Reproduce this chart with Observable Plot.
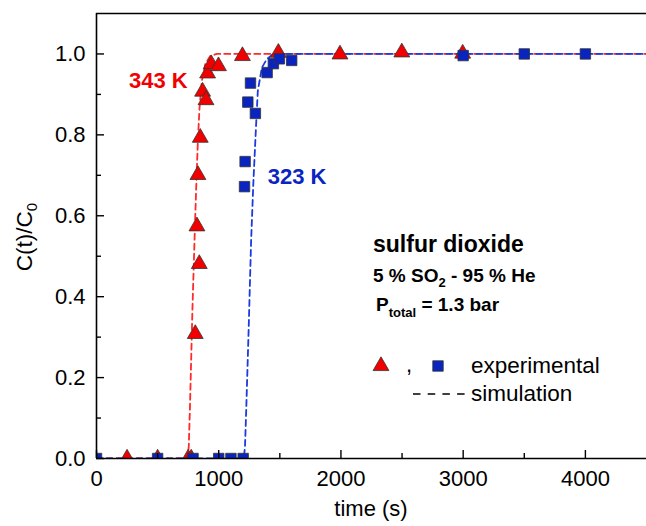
<!DOCTYPE html>
<html>
<head>
<meta charset="utf-8">
<script src="https://cdn.jsdelivr.net/npm/d3@7"></script>
<script src="https://cdn.jsdelivr.net/npm/@observablehq/plot@0.6"></script>
<style>
  html, body { margin: 0; padding: 0; background: #fff; }
  #chart svg { display: block; }
</style>
</head>
<body>
<div id="chart"></div>
<script>
// ---- data ----
// 343 K experimental (red triangles)
const t343 = [250, 500, 750, 775, 808, 822, 830, 841, 849, 868, 896, 909, 939, 998, 1194, 1488, 1992, 2498, 2996];
const c343 = [0, 0, 0, 0, 0.308, 0.574, 0.701, 0.481, 0.793, 0.907, 0.886, 0.952, 0.975, 0.970, 0.995, 1.003, 0.999, 1.004, 1.001];
// 323 K experimental (blue squares)
const t323 = [0, 500, 790, 1000, 1100, 1200, 1211, 1216, 1238, 1260, 1300, 1396, 1447, 1496, 1597, 3000, 3500, 4000];
const c323 = [0, 0, 0, 0, 0, 0, 0.672, 0.734, 0.881, 0.928, 0.853, 0.954, 0.976, 0.988, 0.984, 0.996, 1.0, 1.0];
// simulation curves
const simT343 = [0, 745, 755, 765, 775, 785, 795, 805, 818, 830, 843, 862, 890, 931, 985, 4500];
const simC343 = [0, 0, 0.03, 0.13, 0.25, 0.37, 0.47, 0.57, 0.69, 0.79, 0.867, 0.933, 0.975, 0.995, 1, 1];
const simT323 = [0, 1205, 1215, 1225, 1235, 1245, 1255, 1265, 1284, 1306, 1320, 1353, 1393, 1447, 4500];
const simC323 = [0, 0, 0.03, 0.12, 0.22, 0.32, 0.43, 0.538, 0.686, 0.826, 0.909, 0.966, 0.987, 1, 1];
// ticks
const xMajor = [0, 1000, 2000, 3000, 4000];
const xMinor = [500, 1500, 2500, 3500];
const yMajor = [0, 0.2, 0.4, 0.6, 0.8, 1.0];
const yMinor = [0.1, 0.3, 0.5, 0.7, 0.9];
// labels
const seriesLabels = [{name: "343 K", t: 506, c: 0.933, color: "#f00000"}, {name: "323 K", t: 1641, c: 0.697, color: "#0a24c0"}];

const RED = "#f00000", BLUE = "#0a24c0";
const exp343 = t343.map((t, i) => ({t, c: c343[i]}));
const exp323 = t323.map((t, i) => ({t, c: c323[i]}));
const sim343 = simT343.map((t, i) => ({t, c: simC343[i]}));
const sim323 = simT323.map((t, i) => ({t, c: simC323[i]}));

const FONT = "'Liberation Sans', Arial, sans-serif";
const W = 646, H = 526, ML = 96, MR = 0, MT = 13, MB = 68;
const FW = W - ML - MR, FH = H - MT - MB;

const plot = Plot.plot({
  width: W,
  height: H,
  marginLeft: ML,
  marginRight: MR,
  marginTop: MT,
  marginBottom: MB,
  style: {fontFamily: FONT, fontSize: "22px", color: "#000", background: "#fff"},
  x: {domain: [0, 4500], axis: null},
  y: {domain: [0, 1.1], axis: null},
  marks: [
    Plot.line(sim343, {x: "t", y: "c", stroke: "#ff2a2a", strokeWidth: 1.8, strokeDasharray: "6,4", clip: true}),
    Plot.line(sim323, {x: "t", y: "c", stroke: "#1b3be0", strokeWidth: 1.8, strokeDasharray: "6,4", clip: true}),
    Plot.dot(exp343, {x: "t", y: "c", symbol: "triangle", r: 5.9, fill: RED, stroke: "#333", strokeWidth: 0.8, clip: true}),
    Plot.dot(exp323, {x: "t", y: "c", symbol: "square", r: 5.9, fill: BLUE, stroke: "#333", strokeWidth: 0.8, clip: true}),
    Plot.text(seriesLabels, {x: "t", y: "c", text: "name", fill: "color", fontWeight: "bold", fontSize: 22}),
    // frame
    Plot.ruleX([0], {stroke: "#000", strokeWidth: 1.6}),
    Plot.ruleY([0, 1.1], {stroke: "#000", strokeWidth: 1.6}),
    // inward tick marks
    Plot.ruleX(xMajor, {insetTop: FH - 8, stroke: "#000", strokeWidth: 1.4}),
    Plot.ruleX(xMinor, {insetTop: FH - 5, stroke: "#000", strokeWidth: 1.4}),
    Plot.ruleY(yMajor, {insetRight: FW - 8, stroke: "#000", strokeWidth: 1.4}),
    Plot.ruleY(yMinor, {insetRight: FW - 5, stroke: "#000", strokeWidth: 1.4}),
    // tick labels
    Plot.axisX(xMajor, {tickSize: 0, tickPadding: 12, tickFormat: d => String(d), fontSize: 22, label: null}),
    Plot.axisY(yMajor, {tickSize: 0, tickPadding: 11, tickFormat: d3.format(".1f"), fontSize: 22, label: null})
  ]
});
document.getElementById("chart").appendChild(plot);

// ---- text additions with subscripts, legend ----
const svg = d3.select(plot);
const g = svg.append("g").attr("font-family", FONT).attr("fill", "#000").attr("text-anchor", "start");

// axis titles
g.append("text").attr("x", 371).attr("y", 516).attr("text-anchor", "middle").attr("font-size", 22).text("time (s)");
const yl = g.append("text").attr("transform", "translate(32,237) rotate(-90)").attr("text-anchor", "middle").attr("font-size", 22.5);
yl.append("tspan").text("C(t)/C");
yl.append("tspan").attr("font-size", 15).attr("dy", 5).text("0");

// annotation block
g.append("text").attr("x", 373).attr("y", 252).attr("font-size", 23).attr("font-weight", "bold").text("sulfur dioxide");
const l2 = g.append("text").attr("x", 373).attr("y", 282).attr("font-size", 19).attr("font-weight", "bold");
l2.append("tspan").text("5 % SO");
l2.append("tspan").attr("font-size", 13).attr("dy", 5).text("2");
l2.append("tspan").attr("dy", -5).text(" - 95 % He");
const l3 = g.append("text").attr("x", 376).attr("y", 311).attr("font-size", 19).attr("font-weight", "bold");
l3.append("tspan").text("P");
l3.append("tspan").attr("font-size", 13).attr("dy", 6).text("total");
l3.append("tspan").attr("dy", -6).text(" = 1.3 bar");

// legend
const tri = d3.symbol(d3.symbolTriangle, Math.PI * 5.9 * 5.9)();
const sq = d3.symbol(d3.symbolSquare, Math.PI * 5.9 * 5.9)();
g.append("path").attr("d", tri).attr("transform", "translate(381,366)").attr("fill", RED).attr("stroke", "#333").attr("stroke-width", 0.8);
g.append("text").attr("x", 406).attr("y", 372).attr("font-size", 22).text(",");
g.append("path").attr("d", sq).attr("transform", "translate(438,366)").attr("fill", BLUE).attr("stroke", "#333").attr("stroke-width", 0.8);
g.append("text").attr("x", 471).attr("y", 373).attr("font-size", 22.5).text("experimental");
g.append("line").attr("x1", 413).attr("x2", 466).attr("y1", 394).attr("y2", 394).attr("stroke", "#000").attr("stroke-width", 1.3).attr("stroke-dasharray", "7.5,7.2");
g.append("text").attr("x", 471).attr("y", 401).attr("font-size", 22.5).text("simulation");
</script>
</body>
</html>
